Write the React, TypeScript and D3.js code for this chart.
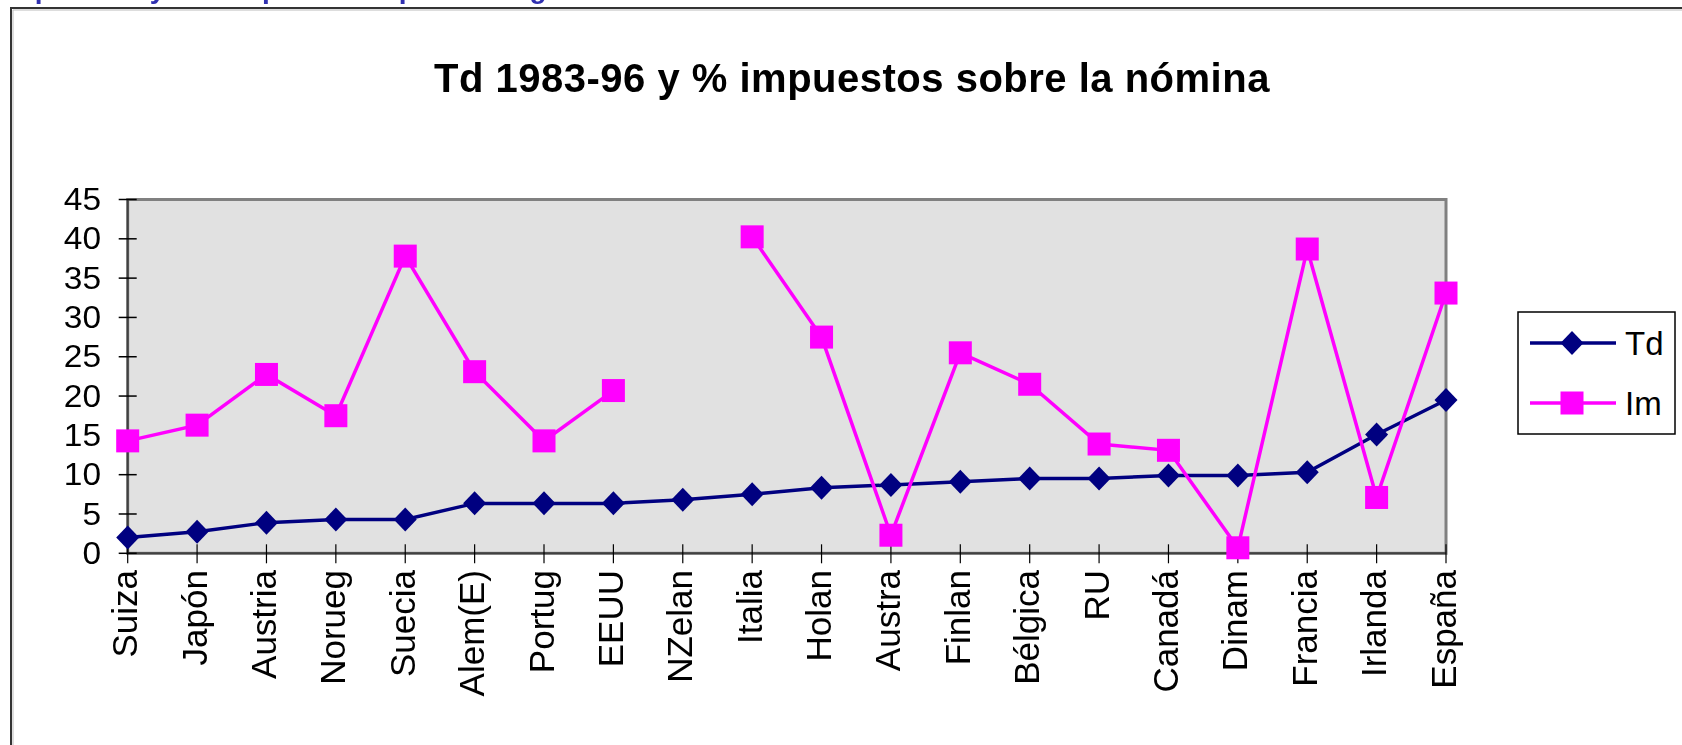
//Line chart: Td 1983-96 and payroll taxes (% impuestos sobre la nómina) by country
import React, { useEffect, useRef } from "react";
import * as d3 from "d3";

const categories = [
  "Suiza", "Japón", "Austria", "Norueg", "Suecia", "Alem(E)", "Portug", "EEUU", "NZelan", "Italia",
  "Holan", "Austra", "Finlan", "Bélgica", "RU", "Canadá", "Dinam", "Francia", "Irlanda", "España",
];
const tdValues = [2.0, 2.75, 3.9, 4.3, 4.3, 6.35, 6.35, 6.35, 6.8, 7.5, 8.35, 8.7, 9.1, 9.5, 9.5, 9.9, 9.9, 10.3, 15.1, 19.5];
const imValues: (number | null)[] = [
  14.3, 16.3, 22.75, 17.5, 37.8, 23.1, 14.3, 20.7, null, 40.25,
  27.5, 2.3, 25.5, 21.5, 13.9, 13.1, 0.7, 38.7, 7.1, 33.1,
];
const yTicks = [0, 5, 10, 15, 20, 25, 30, 35, 40, 45];
const seriesNames = ["Td", "Im"];
const titleText = "Td 1983-96 y % impuestos sobre la nómina";
const headingText = "Impuestos y desempleo: la experiencia gráfica";

const FONT = "Arial, 'Liberation Sans', sans-serif";
const TD_COLOR = "#000080";
const IM_COLOR = "#FF00FF";

export default function App() {
  const ref = useRef<SVGSVGElement>(null);

  useEffect(() => {
    const svg = d3.select(ref.current);
    svg.selectAll("*").remove();

    const width = 1682;
    const height = 745;
    svg.attr("width", width).attr("height", height);

    //Plot area bounds
    const left = 127.7;
    const right = 1446;
    const top = 199.5;
    const bottom = 553.3;

    const xScale = d3.scalePoint<string>().domain(categories).range([left, right]);
    const yScale = d3.scaleLinear().domain([0, 45]).range([bottom, top]);

    //Heading of the slide above, cut off by the top edge
    svg
      .append("text")
      .attr("x", 2)
      .attr("y", -2)
      .attr("font-family", FONT)
      .attr("font-weight", "bold")
      .attr("font-size", 28)
      .attr("fill", "#3030B0")
      .text(headingText);

    //Outer chart border
    svg
      .append("path")
      .attr("d", `M11,${height} L11,8 L${width},8`)
      .attr("fill", "none")
      .attr("stroke", "#333")
      .attr("stroke-width", 2);
    svg
      .append("path")
      .attr("d", `M13,${height} L13,10 L${width},10`)
      .attr("fill", "none")
      .attr("stroke", "#bbb")
      .attr("stroke-width", 1);

    //Title
    svg
      .append("text")
      .attr("x", 852)
      .attr("y", 92)
      .attr("text-anchor", "middle")
      .attr("font-family", FONT)
      .attr("font-weight", "bold")
      .attr("font-size", 40)
      .attr("letter-spacing", 0.5)
      .text(titleText);

    //Plot area
    svg
      .append("rect")
      .attr("x", left)
      .attr("y", top)
      .attr("width", right - left)
      .attr("height", bottom - top)
      .attr("fill", "#E1E1E1")
      .attr("stroke", "#808080")
      .attr("stroke-width", 3);

    //Axis lines
    svg
      .append("path")
      .attr("d", `M${left},${top} L${left},${bottom} L${right},${bottom}`)
      .attr("fill", "none")
      .attr("stroke", "#404040")
      .attr("stroke-width", 2);

    //Y ticks and labels
    const yAxis = svg.append("g");
    yAxis
      .selectAll("line")
      .data(yTicks)
      .enter()
      .append("line")
      .attr("x1", left - 9)
      .attr("x2", left + 9)
      .attr("y1", d => yScale(d))
      .attr("y2", d => yScale(d))
      .attr("stroke", "#000")
      .attr("stroke-width", 1.5);
    yAxis
      .selectAll("text")
      .data(yTicks)
      .enter()
      .append("text")
      .attr("transform", d => `translate(101,${yScale(d)}) scale(1.08,1)`)
      .attr("text-anchor", "end")
      .attr("dominant-baseline", "central")
      .attr("font-family", FONT)
      .attr("font-size", 31)
      .text(d => d);

    //X ticks and rotated labels
    const xAxis = svg.append("g");
    xAxis
      .selectAll("line")
      .data(categories)
      .enter()
      .append("line")
      .attr("x1", d => xScale(d)!)
      .attr("x2", d => xScale(d)!)
      .attr("y1", bottom - 9)
      .attr("y2", bottom + 10)
      .attr("stroke", "#000")
      .attr("stroke-width", 1.2);
    xAxis
      .selectAll("text")
      .data(categories)
      .enter()
      .append("text")
      .attr("transform", d => `translate(${xScale(d)! - 3},570) rotate(-90)`)
      .attr("text-anchor", "end")
      .attr("dominant-baseline", "central")
      .attr("font-family", FONT)
      .attr("font-size", 35)
      .text(d => d);

    //Lines
    const tdPoints = categories.map((c, i) => ({ c, v: tdValues[i] as number | null }));
    const imPoints = categories.map((c, i) => ({ c, v: imValues[i] }));
    const line = d3
      .line<{ c: string; v: number | null }>()
      .defined(d => d.v !== null)
      .x(d => xScale(d.c)!)
      .y(d => yScale(d.v as number));

    svg
      .append("path")
      .attr("d", line(tdPoints)!)
      .attr("fill", "none")
      .attr("stroke", TD_COLOR)
      .attr("stroke-width", 3.5);
    svg
      .append("path")
      .attr("d", line(imPoints)!)
      .attr("fill", "none")
      .attr("stroke", IM_COLOR)
      .attr("stroke-width", 3.5);

    //Markers
    const diamond = (x: number, y: number) => `M${x},${y - 12} L${x + 11.5},${y} L${x},${y + 12} L${x - 11.5},${y} Z`;
    svg
      .append("g")
      .selectAll("path")
      .data(tdPoints)
      .enter()
      .append("path")
      .attr("d", d => diamond(xScale(d.c)!, yScale(d.v as number)))
      .attr("fill", TD_COLOR);
    svg
      .append("g")
      .selectAll("rect")
      .data(imPoints.filter(d => d.v !== null))
      .enter()
      .append("rect")
      .attr("x", d => xScale(d.c)! - 11.5)
      .attr("y", d => yScale(d.v as number) - 11.5)
      .attr("width", 23)
      .attr("height", 23)
      .attr("fill", IM_COLOR);

    //Legend
    const legend = svg.append("g");
    legend
      .append("rect")
      .attr("x", 1518)
      .attr("y", 312)
      .attr("width", 157)
      .attr("height", 122)
      .attr("fill", "#fff")
      .attr("stroke", "#000")
      .attr("stroke-width", 1.5);
    const legendY = d3.scalePoint<string>().domain(seriesNames).range([343, 403]);
    seriesNames.forEach((name, i) => {
      const y = legendY(name)!;
      const color = i === 0 ? TD_COLOR : IM_COLOR;
      legend
        .append("line")
        .attr("x1", 1530)
        .attr("x2", 1616)
        .attr("y1", y)
        .attr("y2", y)
        .attr("stroke", color)
        .attr("stroke-width", 3.5);
      if (i === 0) {
        legend.append("path").attr("d", diamond(1572, y)).attr("fill", color);
      } else {
        legend
          .append("rect")
          .attr("x", 1572 - 11.5)
          .attr("y", y - 11.5)
          .attr("width", 23)
          .attr("height", 23)
          .attr("fill", color);
      }
      legend
        .append("text")
        .attr("x", 1625)
        .attr("y", y)
        .attr("dominant-baseline", "central")
        .attr("font-family", FONT)
        .attr("font-size", 33)
        .text(name);
    });
  }, []);

  return (
    <div style={{ position: "fixed", left: 0, top: 0 }}>
      <svg ref={ref} style={{ display: "block" }} />
    </div>
  );
}
